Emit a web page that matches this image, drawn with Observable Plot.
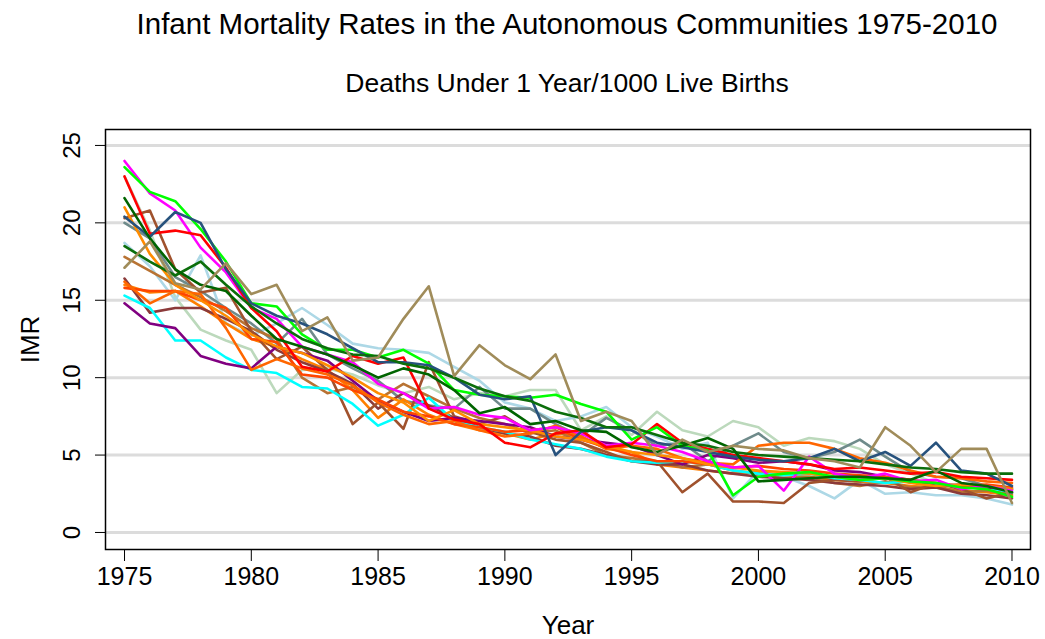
<!DOCTYPE html>
<html>
<head>
<meta charset="utf-8">
<script src="https://cdn.jsdelivr.net/npm/d3@7"></script>
<script src="https://cdn.jsdelivr.net/npm/@observablehq/plot@0.6"></script>
<style>
  html, body { margin: 0; padding: 0; background: #fff; }
  body { width: 1045px; height: 639px; overflow: hidden; font-family: "Liberation Sans", Arial, sans-serif; color: #000; }
  #head { position: relative; height: 110px; }
  #title { position: absolute; top: 9px; left: 567px; transform: translateX(-50%); white-space: nowrap; font-size: 29.5px; line-height: 30px; }
  #subtitle { position: absolute; top: 70px; left: 567px; transform: translateX(-50%); white-space: nowrap; font-size: 26.5px; line-height: 27px; }
</style>
</head>
<body>
<div id="head">
  <div id="title">Infant Mortality Rates in the Autonomous Communities 1975-2010</div>
  <div id="subtitle">Deaths Under 1 Year/1000 Live Births</div>
</div>
<div id="chart"></div>
<script>
const years = d3.range(1975, 2011);
const xTicks = [1975, 1980, 1985, 1990, 1995, 2000, 2005, 2010];
const yTicks = [0, 5, 10, 15, 20, 25];

const regions = ["Galicia", "Madrid", "Murcia", "Navarra", "Ceuta", "La Rioja", "Extremadura", "Cantabria", "Canarias", "Aragón", "Baleares", "C. Valenciana", "Asturias", "Castilla y León", "Cataluña", "Andalucía", "País Vasco", "Castilla-La Mancha", "Melilla"];
const colors  = ["#bcd9bc", "#add8e6", "#6f8b8b", "#ff7f00", "#b87333", "#8b3a3a", "#a0522d", "#00ffff", "#800080", "#ff4500", "#ff6600", "#ff8c00", "#ff00ff", "#ff0000", "#00ff00", "#27527d", "#0b6e0b", "#006400", "#a08c5a"];

const galicia = [23.0,19.5,15.2,13.1,12.4,11.8,9.0,10.5,10.6,10.2,9.5,9.0,9.4,8.6,9.0,8.8,9.2,9.2,6.6,7.5,6.3,7.8,6.6,6.2,7.2,6.8,5.6,6.1,5.9,5.4,4.4,3.8,3.2,3.0,2.8,2.6];
const madrid = [18.7,17.2,15.0,17.9,13.5,12.7,13.5,14.5,13.4,12.2,11.9,11.8,11.6,10.7,9.8,8.4,8.0,7.2,7.5,8.1,6.8,6.2,5.4,5.8,2.2,4.0,3.6,3.0,2.2,3.4,2.5,2.6,2.4,2.4,2.2,1.8];
const murcia = [20.0,19.0,16.5,15.6,14.5,13.5,12.2,13.8,11.5,10.6,9.8,8.5,8.2,8.0,9.4,8.0,8.0,7.0,6.2,7.4,6.6,5.6,5.8,4.6,5.6,6.4,5.2,4.8,5.2,6.0,4.9,3.9,3.6,3.5,3.0,2.8];
const navarra = [16.0,15.5,15.6,14.6,13.5,12.5,12.0,11.2,10.5,9.2,7.4,8.6,7.6,7.0,6.6,6.4,6.0,6.4,6.2,5.4,5.2,4.4,4.2,4.0,3.8,3.9,3.7,3.6,3.4,3.3,3.2,3.0,2.9,2.7,2.6,2.4];
const ceuta = [17.8,16.9,16.0,15.2,14.3,13.2,12.5,10.0,9.0,9.4,8.6,9.6,8.8,8.0,7.4,7.0,6.4,6.6,5.8,5.0,4.8,4.6,4.2,4.4,4.0,3.8,3.5,3.6,3.2,3.0,3.3,2.9,3.0,2.6,2.7,2.5];
const larioja = [16.4,14.2,14.5,14.5,13.8,13.0,11.8,11.0,10.4,9.6,8.0,9.0,8.2,7.4,6.8,6.4,6.2,5.6,5.4,5.0,4.6,4.4,4.4,4.0,3.8,3.6,3.5,3.4,3.2,3.1,3.0,2.8,2.9,2.5,2.4,2.2];
const extremadura = [20.3,20.8,17.0,15.5,15.8,13.0,11.2,12.0,10.5,7.0,8.4,6.7,11.0,7.5,7.0,7.5,6.5,6.0,5.8,5.2,4.6,4.6,2.6,3.8,2.0,2.0,1.9,3.2,3.4,3.3,3.6,2.6,3.2,2.8,2.2,2.6];
const cantabria = [15.3,14.5,12.4,12.4,11.3,10.5,10.3,9.4,9.3,8.3,6.9,7.6,8.7,7.2,6.8,6.5,6.0,5.7,5.4,4.9,4.6,4.5,4.6,4.4,4.0,3.8,3.7,3.8,3.5,3.4,3.2,3.3,3.1,3.0,2.9,2.6];
const canarias = [14.8,13.5,13.2,11.4,10.9,10.6,12.0,11.6,11.1,9.8,8.5,7.8,7.2,7.4,7.2,7.0,6.8,6.2,6.0,5.8,5.6,5.0,4.4,5.0,4.8,4.5,4.6,4.4,4.0,3.9,3.6,3.4,3.0,3.1,2.9,2.8];
const aragon = [15.8,15.6,15.6,15.0,14.5,12.5,12.3,10.2,10.0,9.2,8.6,7.8,7.5,7.0,6.8,6.5,6.6,6.8,6.0,5.5,5.0,4.6,4.6,4.4,4.2,4.3,4.1,4.0,3.8,3.7,3.6,3.4,3.2,3.0,3.1,2.9];
const baleares = [16.2,14.8,15.6,15.4,13.2,10.5,11.2,10.6,10.2,9.5,8.4,7.6,7.0,7.2,6.6,6.2,6.4,6.9,6.2,5.4,5.6,5.4,4.8,4.5,4.4,5.6,5.8,5.8,5.4,4.8,4.5,4.0,3.6,3.5,3.3,3.2];
const valenciana = [21.0,18.0,16.0,15.0,14.0,12.8,12.0,11.6,10.8,10.0,9.0,8.4,7.2,7.9,7.0,6.8,6.6,6.2,6.0,5.6,5.2,5.0,4.8,4.4,4.2,4.0,3.9,3.8,3.6,3.4,3.5,3.2,3.0,3.1,3.0,2.8];
const asturias = [24.0,21.9,20.8,18.4,16.8,14.5,13.8,12.0,11.5,11.0,9.6,9.0,8.0,8.1,7.6,7.4,6.6,6.8,6.4,5.6,5.8,5.6,5.2,4.6,4.2,4.3,2.7,4.9,3.8,3.5,3.8,3.3,3.4,2.8,3.0,2.7];
const castillaleon = [23.0,19.3,19.5,19.2,17.1,14.5,13.0,10.7,10.4,11.4,10.9,11.3,8.0,7.3,7.0,5.8,5.5,6.4,6.6,5.5,5.7,7.0,5.8,5.4,5.0,4.8,4.6,4.4,4.1,4.2,4.0,3.8,3.9,3.6,3.5,3.4];
const cataluna = [23.6,22.0,21.4,19.6,17.5,14.8,14.6,12.8,11.8,11.8,11.3,11.8,10.9,9.2,8.9,8.8,8.7,8.9,8.3,7.8,6.0,6.8,5.6,5.3,2.4,3.6,3.8,3.9,3.6,3.4,3.5,3.3,3.2,2.9,2.8,2.3];
const andalucia = [20.4,19.1,20.7,20.0,17.0,14.8,14.0,13.5,12.8,11.9,11.0,11.0,10.8,10.0,8.9,8.6,8.8,5.0,6.5,6.8,6.6,5.8,5.5,5.2,4.9,4.7,4.6,4.8,5.4,4.6,5.2,4.3,5.8,4.0,3.8,3.0];
const paisvasco = [18.5,17.5,16.6,17.5,16.0,14.6,13.5,12.5,11.9,11.5,11.4,10.9,10.6,10.0,9.3,8.8,8.5,7.8,7.4,6.8,6.8,6.3,5.8,5.6,5.2,5.0,4.9,4.8,4.7,4.6,4.4,4.2,4.1,3.9,3.8,3.8];
const castillamancha = [21.6,19.0,17.0,16.0,15.6,14.0,12.5,12.0,11.5,10.8,10.0,10.6,10.2,9.2,7.7,8.1,7.0,7.2,6.6,6.5,5.5,5.2,5.6,6.1,5.4,3.3,3.4,3.5,3.6,3.6,3.5,3.4,4.0,3.2,3.0,2.6];
const melilla = [17.1,18.8,16.1,15.7,17.4,15.4,16.0,13.0,13.9,11.1,11.3,13.8,15.9,10.1,12.1,10.8,9.9,11.5,7.2,7.8,7.2,5.0,6.0,5.2,5.6,5.4,5.3,4.8,4.6,4.2,6.8,5.6,3.9,5.4,5.4,1.9];

const seriesValues = [galicia, madrid, murcia, navarra, ceuta, larioja, extremadura, cantabria, canarias, aragon, baleares, valenciana, asturias, castillaleon, cataluna, andalucia, paisvasco, castillamancha, melilla];

const data = regions.flatMap((region, i) =>
  years.map((year, j) => ({region, year, imr: seriesValues[i][j]}))
);

const chart = Plot.plot({
  width: 1045,
  height: 529,
  marginTop: 19,
  marginBottom: 90,
  marginLeft: 105,
  marginRight: 15,
  style: {fontFamily: "'Liberation Sans', Arial, sans-serif", background: "white", color: "black", overflow: "visible"},
  x: {domain: [1974.25, 2010.73]},
  y: {domain: [-1.1, 26.03]},
  color: {domain: regions, range: colors},
  marks: [
    Plot.gridY(yTicks, {stroke: "#dcdcdc", strokeOpacity: 1, strokeWidth: 3}),
    Plot.line(data, {x: "year", y: "imr", z: "region", stroke: "region", strokeWidth: 2.6}),
    Plot.frame({stroke: "black", strokeWidth: 1.5}),
    Plot.axisX(xTicks, {tickSize: 12, tickPadding: 6, fontSize: 25, tickFormat: d => String(d), label: null}),
    Plot.axisY(yTicks, {tickSize: 10, tickFormat: () => "", label: null}),
    Plot.text(yTicks, {y: d => d, text: d => String(d), frameAnchor: "left", dx: -33, rotate: -90, textAnchor: "middle", lineAnchor: "middle", fontSize: 24}),
    Plot.text(["Year"], {text: d => d, frameAnchor: "bottom", dy: 76, textAnchor: "middle", lineAnchor: "middle", fontSize: 26}),
    Plot.text(["IMR"], {text: d => d, frameAnchor: "left", dx: -75, rotate: -90, textAnchor: "middle", lineAnchor: "middle", fontSize: 26})
  ]
});
document.getElementById("chart").appendChild(chart);
</script>
</body>
</html>
